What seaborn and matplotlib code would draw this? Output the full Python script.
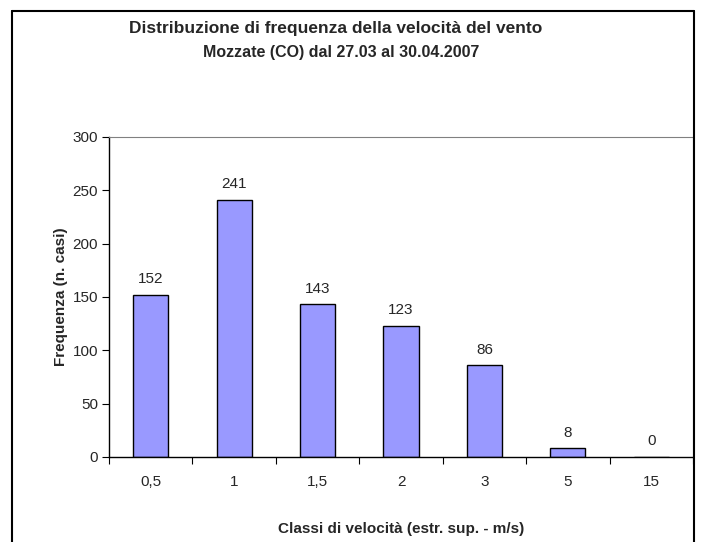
import numpy as np
import pandas as pd
import matplotlib
matplotlib.use("Agg")
import matplotlib.pyplot as plt
import seaborn as sns
from matplotlib.lines import Line2D

# data
classi = ["0,5", "1", "1,5", "2", "3", "5", "15"]
frequenze = [152, 241, 143, 123, 86, 8, 0]
y_ticks = [0, 50, 100, 150, 200, 250, 300]

titolo = "Distribuzione di frequenza della velocità del vento"
sottotitolo = "Mozzate (CO) dal 27.03 al 30.04.2007"
x_label = "Classi di velocità (estr. sup. - m/s)"
y_label = "Frequenza (n. casi)"

sns.set_style("white")
plt.rcParams["font.family"] = ["Liberation Sans", "DejaVu Sans"]

df = pd.DataFrame({"Classe": classi, "Frequenza": frequenze})

fig = plt.figure(figsize=(7.01, 5.42), dpi=100)
ax = fig.add_axes([109 / 701, 85 / 542, 584 / 701, 320 / 542])

sns.barplot(data=df, x="Classe", y="Frequenza", order=classi,
            color="#9999FF", saturation=1, width=0.42,
            edgecolor="black", linewidth=1.0, ax=ax)

for i, v in enumerate(frequenze):
    ax.text(i, v + 8, str(v), ha="center", va="bottom", fontsize=11)

ax.set_ylim(0, 300)
ax.set_xlim(-0.5, len(classi) - 0.5)
ax.set_yticks(y_ticks)
ax.set_yticklabels([str(t) for t in y_ticks], fontsize=11)
ax.tick_params(axis="y", direction="out", length=5, width=0.8, color="black",
               left=True, pad=3)

# Excel-style category ticks between bars
ax.set_xticks(range(len(classi)))
ax.set_xticklabels(classi, fontsize=11)
ax.tick_params(axis="x", length=0, pad=13)
ax.set_xticks(np.arange(-0.5, len(classi)), minor=True)
ax.tick_params(axis="x", which="minor", direction="out", length=5,
               width=0.8, color="black", bottom=True)

ax.set_xlabel(x_label, fontsize=11, fontweight="bold", labelpad=24)
ax.set_ylabel(y_label, fontsize=11, fontweight="bold", labelpad=3)

for side in ["left", "bottom"]:
    ax.spines[side].set_color("black")
    ax.spines[side].set_linewidth(1.0)
ax.spines["top"].set_color("#808080")
ax.spines["right"].set_color("#808080")

fig.text(336 / 701, 1 - 28 / 542, titolo, ha="center", va="center",
         fontsize=12.5, fontweight="bold")
fig.text(341 / 701, 1 - 53 / 542, sottotitolo, ha="center", va="center",
         fontsize=11.5, fontweight="bold")

# outer chart frame (bottom edge falls outside the image)
x0, x1, y_top = 12 / 701, 694 / 701, 1 - 11 / 542
for xs, ys in [([x0, x0], [-0.1, y_top]), ([x0, x1], [y_top, y_top]),
               ([x1, x1], [y_top, -0.1])]:
    fig.add_artist(Line2D(xs, ys, color="black", linewidth=1.5,
                          transform=fig.transFigure, clip_on=False))

fig.savefig("out.png", dpi=100)
